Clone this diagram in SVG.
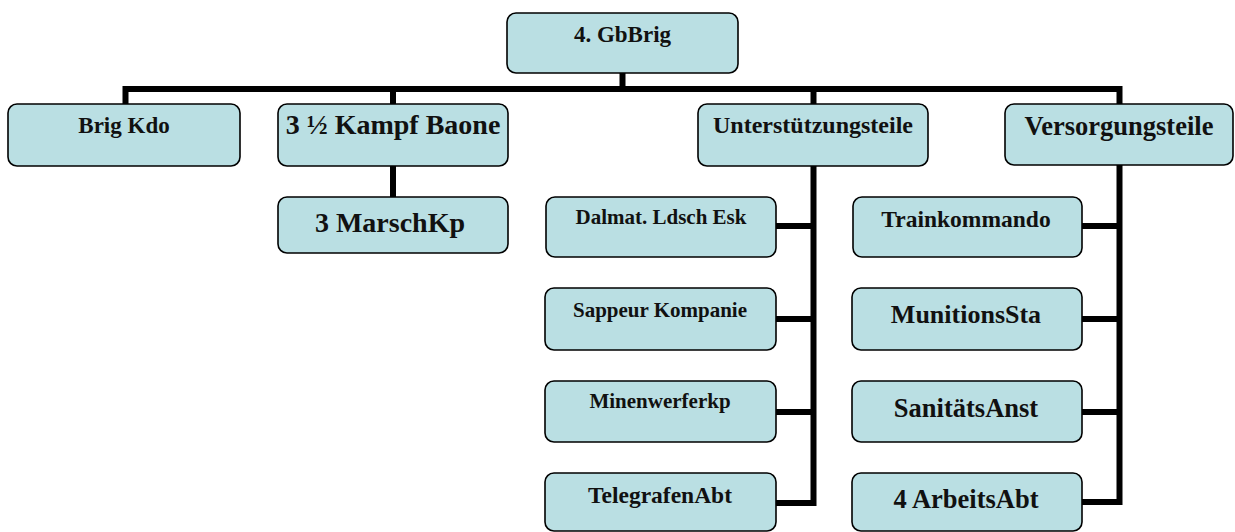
<svg xmlns="http://www.w3.org/2000/svg" width="1235" height="532" viewBox="0 0 1235 532">
  <style>
    .box { fill: #BADFE3; stroke: #000; stroke-width: 1.6; }
    .lbl { font-family: "Liberation Serif", "Times New Roman", serif; font-weight: bold; fill: #111; text-anchor: middle; }
    .wire { fill: none; stroke: #000; stroke-width: 6; stroke-linejoin: miter; stroke-linecap: butt; }
  </style>
  <rect width="1235" height="532" fill="#fff"/>

  <!-- connectors -->
  <g id="connectors">
    <path class="wire" d="M622.5,73 V89"/>
    <path class="wire" d="M125.5,104 V89 H1119.5 V104"/>
    <path class="wire" d="M393,89 V104"/>
    <path class="wire" d="M813.5,89 V104"/>
    <path class="wire" d="M393,166 V197"/>
    <!-- Unterstützungsteile branch -->
    <path class="wire" d="M813.5,166 V503 H776"/>
    <path class="wire" d="M776,226 H813.5 M776,319 H813.5 M776,412 H813.5"/>
    <!-- Versorgungsteile branch -->
    <path class="wire" d="M1119.5,165 V502 H1082"/>
    <path class="wire" d="M1082,226 H1119.5 M1082,319 H1119.5 M1082,412 H1119.5"/>
  </g>

  <g id="gbbrig">
    <rect class="box" x="507" y="13" width="231" height="60" rx="9"/>
    <text class="lbl" x="622.5" y="42" font-size="23">4. GbBrig</text>
  </g>

  <g id="brig-kdo">
    <rect class="box" x="8" y="104" width="232" height="62" rx="9"/>
    <text class="lbl" x="124" y="133" font-size="23">Brig Kdo</text>
  </g>

  <g id="kampf-baone">
    <rect class="box" x="278" y="104" width="230" height="62" rx="9"/>
    <text class="lbl" x="393" y="134" font-size="28">3 ½ Kampf Baone</text>
  </g>

  <g id="marschkp">
    <rect class="box" x="278" y="197" width="230" height="56" rx="9"/>
    <text class="lbl" x="390" y="232" font-size="28">3 MarschKp</text>
  </g>

  <g id="unterstuetzung">
    <rect class="box" x="698" y="104" width="230" height="62" rx="9"/>
    <text class="lbl" x="813" y="133" font-size="24">Unterstützungsteile</text>
  </g>

  <g id="versorgung">
    <rect class="box" x="1005" y="104" width="228" height="61" rx="9"/>
    <text class="lbl" x="1119" y="135" font-size="26.5">Versorgungsteile</text>
  </g>

  <g id="ldsch-esk">
    <rect class="box" x="546" y="197" width="230" height="60" rx="9"/>
    <text class="lbl" x="661" y="224" font-size="21">Dalmat. Ldsch Esk</text>
  </g>

  <g id="sappeur">
    <rect class="box" x="545" y="288" width="231" height="62" rx="9"/>
    <text class="lbl" x="660" y="317" font-size="21">Sappeur Kompanie</text>
  </g>

  <g id="minenwerfer">
    <rect class="box" x="545" y="381" width="231" height="61" rx="9"/>
    <text class="lbl" x="660" y="408" font-size="21">Minenwerferkp</text>
  </g>

  <g id="telegrafen">
    <rect class="box" x="545" y="473" width="231" height="58" rx="9"/>
    <text class="lbl" x="660" y="503" font-size="23.5">TelegrafenAbt</text>
  </g>

  <g id="trainkommando">
    <rect class="box" x="853" y="197" width="229" height="60" rx="9"/>
    <text class="lbl" x="966" y="227" font-size="23.5">Trainkommando</text>
  </g>

  <g id="munition">
    <rect class="box" x="852" y="288" width="230" height="62" rx="9"/>
    <text class="lbl" x="966" y="323" font-size="26">MunitionsSta</text>
  </g>

  <g id="sanitaet">
    <rect class="box" x="852" y="381" width="230" height="61" rx="9"/>
    <text class="lbl" x="966" y="417" font-size="26.5">SanitätsAnst</text>
  </g>

  <g id="arbeit">
    <rect class="box" x="852" y="473" width="230" height="58" rx="9"/>
    <text class="lbl" x="966" y="508" font-size="26.5">4 ArbeitsAbt</text>
  </g>
</svg>
